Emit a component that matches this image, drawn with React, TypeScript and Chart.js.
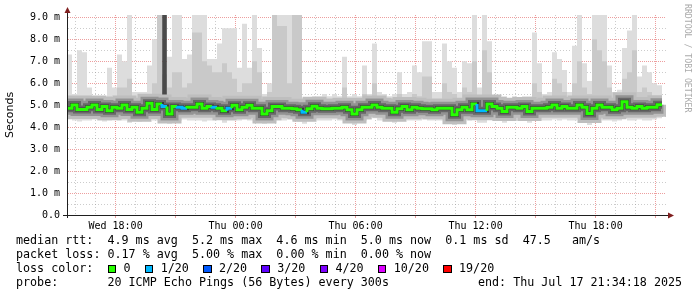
import React, { useEffect, useRef } from 'react';
import { Chart, registerables } from 'chart.js';

Chart.register(...registerables);

// time axis: hours since Wed 00:00; graph starts Wed 15:34:18, 15 min per step
const startHour = 15 + 34 / 60 + 18 / 3600;
const stepHours = 0.25;
const spanHours = 29.95;

// median RTT per step (ms)
const medianRtt = [
  4.86, 4.86, 5.0, 4.8, 4.8, 4.9, 5.0, 4.8, 4.94, 4.74,
  4.9, 4.86, 5.0, 4.8, 4.9, 4.68, 4.86, 5.09, 4.8, 5.05,
  4.94, 4.6, 4.94, 4.9, 4.86, 4.9, 4.9, 5.05, 4.86, 4.94,
  4.9, 4.86, 4.74, 4.86, 4.99, 4.79, 4.9, 4.99, 4.86, 4.86,
  4.59, 4.74, 4.94, 4.94, 4.86, 4.86, 4.83, 4.79, 4.68, 4.83,
  4.95, 4.86, 4.83, 4.83, 4.86, 4.86, 4.9, 4.79, 4.59, 4.79,
  4.9, 4.9, 5.0, 4.9, 4.86, 4.86, 4.68, 4.83, 4.94, 4.79,
  4.9, 4.86, 4.83, 4.83, 4.79, 4.86, 4.86, 4.86, 4.56, 4.79,
  4.9, 4.79, 5.05, 4.74, 4.74, 5.05, 4.94, 4.86, 4.71, 4.9,
  4.9, 4.86, 4.94, 4.71, 4.86, 4.86, 4.86, 4.9, 5.0, 4.86,
  4.94, 4.86, 4.86, 5.0, 4.9, 4.62, 4.86, 5.0, 4.9, 4.9,
  4.79, 4.86, 5.15, 4.9, 4.86, 4.94, 4.86, 4.9, 4.9, 5.02,
];

// slowest ping per step (ms)
const maxRtt = [
  5.4, 7.3, 5.5, 7.5, 7.4, 5.8, 5.4, 5.4, 5.4, 6.7,
  5.8, 7.3, 7.0, 9.5, 5.6, 5.6, 5.6, 6.8, 8.0, 9.5,
  6.4, 7.2, 9.5, 9.5, 7.1, 7.3, 9.5, 9.5, 9.5, 7.1,
  7.1, 7.8, 8.5, 8.5, 8.5, 6.7, 8.7, 6.7, 9.5, 7.6,
  5.5, 6.0, 9.5, 9.5, 9.5, 9.5, 9.5, 9.5, 5.3, 5.3,
  5.4, 5.4, 5.5, 5.4, 5.5, 5.4, 7.2, 5.4, 5.5, 5.4,
  6.8, 5.5, 7.8, 5.6, 5.5, 5.4, 5.5, 6.5, 5.5, 5.6,
  6.8, 6.5, 7.9, 7.9, 5.6, 5.6, 7.8, 7.0, 6.7, 5.6,
  7.0, 6.9, 9.5, 5.8, 9.5, 7.9, 5.3, 5.3, 5.4, 5.3,
  5.4, 5.3, 5.4, 5.4, 8.3, 6.9, 5.5, 5.6, 7.4, 7.1,
  6.6, 5.6, 7.7, 9.5, 6.9, 6.1, 9.5, 9.5, 9.5, 6.8,
  5.6, 5.7, 7.6, 8.4, 9.5, 6.3, 6.8, 6.5, 6.0, 5.9,
];

// upper quartile of pings per step (ms)
const upperRtt = [
  5.3, 5.3, 5.3, 5.4, 5.4, 5.3, 5.3, 5.3, 5.3, 5.4,
  5.3, 5.8, 5.8, 6.2, 5.3, 5.3, 5.3, 5.5, 6.0, 9.5,
  5.6, 5.8, 6.5, 6.5, 5.8, 6.0, 8.3, 8.3, 7.0, 6.8,
  6.5, 6.5, 6.9, 6.5, 6.2, 5.6, 6.0, 6.0, 7.0, 6.5,
  5.4, 5.6, 9.5, 8.6, 8.6, 6.0, 9.5, 9.5, 5.3, 5.3,
  5.3, 5.3, 5.3, 5.3, 5.3, 5.3, 5.8, 5.3, 5.3, 5.3,
  5.5, 5.3, 6.0, 5.3, 5.3, 5.3, 5.3, 5.5, 5.3, 5.3,
  5.5, 5.4, 6.3, 6.3, 5.3, 5.3, 6.0, 5.6, 5.5, 5.3,
  5.8, 5.6, 7.0, 5.4, 7.5, 6.5, 5.3, 5.3, 5.3, 5.3,
  5.3, 5.3, 5.3, 5.3, 6.0, 5.6, 5.3, 5.3, 6.2, 6.0,
  5.6, 5.3, 6.0, 7.0, 5.8, 5.5, 8.0, 7.5, 7.0, 5.8,
  5.3, 5.4, 6.2, 6.5, 7.5, 5.6, 5.8, 5.6, 5.4, 5.4,
];

// fastest ping per step (ms)
const minRtt = [
  4.3, 4.35, 4.3, 4.25, 4.3, 4.3, 4.35, 4.3, 4.25, 4.3,
  4.35, 4.3, 4.3, 4.2, 4.3, 4.25, 4.3, 4.35, 4.3, 4.3,
  4.3, 4.15, 4.3, 4.3, 4.35, 4.3, 4.3, 4.3, 4.25, 4.3,
  4.3, 4.35, 4.2, 4.3, 4.3, 4.3, 4.35, 4.3, 4.3, 4.3,
  4.15, 4.2, 4.3, 4.3, 4.3, 4.35, 4.3, 4.25, 4.15, 4.3,
  4.35, 4.3, 4.3, 4.3, 4.35, 4.3, 4.3, 4.25, 4.1, 4.25,
  4.3, 4.35, 4.4, 4.3, 4.3, 4.3, 4.2, 4.3, 4.35, 4.3,
  4.3, 4.3, 4.35, 4.3, 4.3, 4.3, 4.3, 4.35, 4.1, 4.3,
  4.35, 4.3, 4.35, 4.2, 4.2, 4.35, 4.3, 4.3, 4.2, 4.3,
  4.3, 4.3, 4.35, 4.2, 4.3, 4.3, 4.3, 4.3, 4.35, 4.3,
  4.35, 4.3, 4.3, 4.35, 4.3, 4.1, 4.3, 4.35, 4.3, 4.3,
  4.25, 4.3, 4.4, 4.3, 4.3, 4.35, 4.3, 4.3, 4.35, 4.4,
];

// steps with lost pings (of 20)
const lossSteps = [19, 22, 23, 29, 32, 47, 82, 83];
const lossCounts = [1, 1, 1, 1, 1, 1, 1, 1];

// step where most pings were slow (dark smoke column)
const darkSmokeSteps = [19];
const darkSmokeTop = [9.5];

// tick labels
const xLabelHours = [18, 24, 30, 36, 42];
const xLabels = ['Wed 18:00', 'Thu 00:00', 'Thu 06:00', 'Thu 12:00', 'Thu 18:00'];
const yLabelValues = [0, 1, 2, 3, 4, 5, 6, 7, 8, 9];
const yLabels = ['0.0', '1.0 m', '2.0 m', '3.0 m', '4.0 m', '5.0 m', '6.0 m', '7.0 m', '8.0 m', '9.0 m'];

// loss colour legend
const lossThresholds = [0, 1, 2, 3, 4, 10, 19];
const lossLabels = ['0', '1/20', '2/20', '3/20', '4/20', '10/20', '19/20'];
const lossColors = ['#26ff00', '#00b8ff', '#0059ff', '#5e00ff', '#7e00ff', '#dd00ff', '#ff0000'];

const legendMedian = 'median rtt:  4.9 ms avg  5.2 ms max  4.6 ms min  5.0 ms now  0.1 ms sd  47.5   am/s';
const legendLoss = 'packet loss: 0.17 % avg  5.00 % max  0.00 % min  0.00 % now';
const legendProbe = 'probe:       20 ICMP Echo Pings (56 Bytes) every 300s';
const legendEnd = 'end: Thu Jul 17 21:34:18 2025';

const GRID = 'rgba(143,143,143,0.45)';
const MGRID = 'rgba(222,79,79,0.55)';
const NONE = 'rgba(0,0,0,0)';
const AXIS = '#1f1f1f';
const ARROW = 'rgb(128,31,31)';
const MONO = '"DejaVu Sans Mono", monospace';

const axisArrows = {
  id: 'axisArrows',
  afterDraw(chart: any) {
    const { ctx, chartArea: a } = chart;
    ctx.save();
    ctx.strokeStyle = AXIS;
    ctx.lineWidth = 1;
    ctx.beginPath();
    ctx.moveTo(a.left - 4, a.bottom + 0.5);
    ctx.lineTo(a.right + 3, a.bottom + 0.5);
    ctx.moveTo(a.left + 0.5, a.bottom + 3);
    ctx.lineTo(a.left + 0.5, a.top - 3);
    ctx.stroke();
    ctx.fillStyle = ARROW;
    ctx.beginPath();
    ctx.moveTo(a.right + 2, a.bottom + 0.5 - 3);
    ctx.lineTo(a.right + 8, a.bottom + 0.5);
    ctx.lineTo(a.right + 2, a.bottom + 0.5 + 3);
    ctx.closePath();
    ctx.fill();
    ctx.beginPath();
    ctx.moveTo(a.left + 0.5 - 3, a.top - 2);
    ctx.lineTo(a.left + 0.5, a.top - 8);
    ctx.lineTo(a.left + 0.5 + 3, a.top - 2);
    ctx.closePath();
    ctx.fill();
    ctx.restore();
  },
};

export default function App() {
  const ref = useRef<HTMLCanvasElement>(null);

  useEffect(() => {
    const canvas = ref.current;
    if (!canvas) return;
    const t = (i: number) => startHour + i * stepHours;
    const pts = (arr: number[]) => arr.map((y, i) => ({ x: t(i), y }));
    const lossAt = new Map<number, number>(lossSteps.map((s, k) => [s, lossCounts[k]]));
    const colorFor = (n: number) => {
      let c = lossColors[0];
      lossThresholds.forEach((th, k) => {
        if (n >= th) c = lossColors[k];
      });
      return c;
    };
    const medianPts = pts(medianRtt);
    const coreLine = (w: number, color: string, order: number) => ({
      type: 'line',
      data: medianPts,
      stepped: 'after',
      borderColor: color,
      borderWidth: w,
      borderCapStyle: 'butt',
      borderJoinStyle: 'miter',
      pointRadius: 0,
      fill: false,
      order,
      clip: 0,
    });
    const gridHours: number[] = [];
    for (let h = Math.ceil(startHour); h <= startHour + spanHours; h++) gridHours.push(h);
    const yGrid: number[] = [];
    for (let k = 0; k <= 18; k++) yGrid.push(k / 2);

    const chart = new Chart(canvas, {
      type: 'line',
      data: {
        datasets: [
          {
            type: 'line',
            data: medianPts,
            stepped: 'after',
            borderWidth: 3,
            borderColor: lossColors[0],
            borderCapStyle: 'butt',
            segment: { borderColor: (c: any) => colorFor(lossAt.get(c.p0DataIndex) ?? 0) },
            pointRadius: 0,
            fill: false,
            order: 0,
            clip: 0,
          },
          coreLine(4, '#3a3a3a', 1),
          coreLine(8, '#676767', 2),
          coreLine(13, '#939393', 3),
          coreLine(19, '#bebebe', 4),
          {
            type: 'bar',
            data: darkSmokeSteps.map((s, k) => ({ x: t(s) + stepHours / 2, y: [medianRtt[s], darkSmokeTop[k]] })),
            backgroundColor: '#4a4a4a',
            borderWidth: 0,
            barThickness: 4,
            grouped: false,
            order: 5,
            clip: 0,
          },
          {
            type: 'line',
            data: pts(upperRtt),
            stepped: 'after',
            borderWidth: 0,
            borderColor: 'transparent',
            backgroundColor: '#c9c9c9',
            fill: 1,
            pointRadius: 0,
            order: 6,
            clip: 0,
          },
          {
            type: 'line',
            data: pts(maxRtt),
            stepped: 'after',
            borderWidth: 0,
            borderColor: 'transparent',
            backgroundColor: '#dddddd',
            fill: 8,
            pointRadius: 0,
            order: 7,
            clip: 0,
          },
          {
            type: 'line',
            data: pts(minRtt),
            stepped: 'after',
            borderWidth: 0,
            borderColor: 'transparent',
            pointRadius: 0,
            fill: false,
            order: 8,
            clip: 0,
          },
        ] as any,
      },
      options: {
        responsive: false,
        animation: false,
        devicePixelRatio: 1,
        events: [],
        layout: { padding: { left: 0, right: 31, top: 15, bottom: 62 } },
        plugins: {
          legend: { display: false },
          tooltip: { enabled: false },
          title: { display: false },
        },
        scales: {
          x: {
            type: 'linear',
            min: startHour,
            max: startHour + spanHours,
            offset: false,
            z: 1,
            afterBuildTicks: (s: any) => {
              s.ticks = gridHours.map((v) => ({ value: v }));
            },
            afterFit: (s: any) => {
              s.height = 20;
            },
            ticks: {
              autoSkip: false,
              maxRotation: 0,
              minRotation: 0,
              padding: 2,
              color: '#000',
              font: { family: MONO, size: 10 },
              callback: (v: any) => {
                const k = xLabelHours.indexOf(Math.round(Number(v)));
                return k >= 0 ? xLabels[k] : '';
              },
            },
            grid: {
              color: (c: any) => (c.tick && c.tick.value % 3 === 0 ? MGRID : GRID),
              tickColor: (c: any) => (c.tick && c.tick.value % 3 === 0 ? MGRID : NONE),
              lineWidth: 1,
              drawTicks: true,
              tickLength: 3,
              offset: false,
            },
            border: {
              display: true,
              color: AXIS,
              width: 1,
              dash: (c: any) => (c.tick && c.tick.value % 3 === 0 ? [1, 1] : [1, 2]),
            },
          },
          y: {
            type: 'linear',
            min: 0,
            max: 9.1,
            z: 1,
            afterBuildTicks: (s: any) => {
              s.ticks = yGrid.map((v) => ({ value: v }));
            },
            afterFit: (s: any) => {
              s.width = 67;
            },
            ticks: {
              autoSkip: false,
              padding: 4,
              color: '#000',
              font: { family: MONO, size: 10 },
              callback: (v: any) => {
                const k = yLabelValues.indexOf(Number(v));
                return k >= 0 ? yLabels[k] : '';
              },
            },
            grid: {
              color: (c: any) => {
                if (!c.tick) return GRID;
                if (c.tick.value === 0) return NONE;
                return Number.isInteger(c.tick.value) ? MGRID : GRID;
              },
              tickColor: NONE,
              lineWidth: 1,
              drawTicks: true,
              tickLength: 3,
            },
            border: {
              display: true,
              color: AXIS,
              width: 1,
              dash: (c: any) => (c.tick && Number.isInteger(c.tick.value) ? [1, 1] : [1, 2]),
            },
            title: {
              display: true,
              text: 'Seconds',
              color: '#000',
              font: { family: '"DejaVu Sans", sans-serif', size: 11 },
              padding: { top: 4, bottom: 0 },
            },
          },
        },
      } as any,
      plugins: [axisArrows],
    });
    return () => chart.destroy();
  }, []);

  const square = (color: string) => (
    <span
      style={{
        display: 'inline-block',
        width: 6.5,
        height: 6.5,
        border: '1px solid #000',
        background: color,
        verticalAlign: -1,
        margin: '0 0.25px',
      }}
    />
  );

  return (
    <div
      style={{
        position: 'absolute',
        left: 0,
        top: 0,
        width: 697,
        height: 297,
        background: '#fff',
        overflow: 'hidden',
      }}
    >
      <canvas ref={ref} width={697} height={297} style={{ display: 'block', width: 697, height: 297 }} />
      <div
        style={{
          position: 'absolute',
          left: 682.5,
          top: 4,
          writingMode: 'vertical-rl',
          fontFamily: MONO,
          fontSize: 8.2,
          lineHeight: '10px',
          color: '#aaaaaa',
          whiteSpace: 'pre',
        }}
      >
        RRDTOOL / TOBI OETIKER
      </div>
      <div
        style={{
          position: 'absolute',
          left: 16,
          top: 233,
          width: 681,
          fontFamily: MONO,
          fontSize: 11.7,
          lineHeight: '14.1px',
          color: '#000',
          whiteSpace: 'pre',
        }}
      >
        <div>{legendMedian}</div>
        <div>{legendLoss}</div>
        <div>
          {'loss color:  '}
          {lossLabels.map((lab, k) => (
            <React.Fragment key={lab}>
              {square(lossColors[k])}
              {' ' + lab + (k < lossLabels.length - 1 ? '  ' : '')}
            </React.Fragment>
          ))}
        </div>
        <div style={{ position: 'relative' }}>
          {legendProbe}
          <span style={{ position: 'absolute', left: 462, top: 0 }}>{legendEnd}</span>
        </div>
      </div>
    </div>
  );
}
